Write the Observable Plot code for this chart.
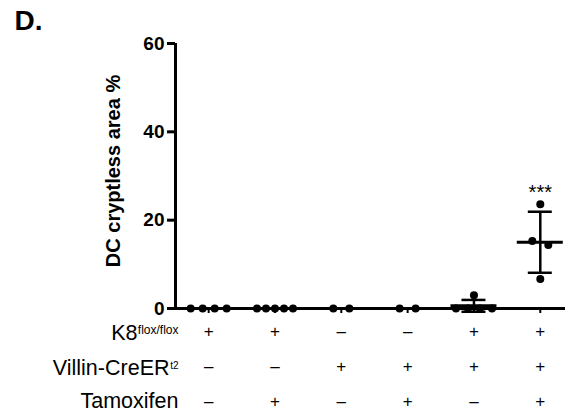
<!DOCTYPE html>
<html><head><meta charset="utf-8">
<script src="https://cdn.jsdelivr.net/npm/d3@7"></script>
<script src="https://cdn.jsdelivr.net/npm/@observablehq/plot@0.6"></script>
<style>body{margin:0;background:#fff}</style>
</head><body><div id="chart"></div>
<script>
const title = "D.";
const groups = [0, 1, 2, 3, 4, 5];
const values = [
  [0, 0, 0, 0],
  [0, 0, 0, 0, 0],
  [0, 0],
  [0, 0],
  [0, 0, 3, 0, 0],
  [23.6, 15.3, 14.4, 6.7]
];
const yTicks = [0, 20, 40, 60];
const yLabel = "DC cryptless area %";
const rowLabels = ["K8", "Villin-CreER", "Tamoxifen"];
const rowSups = ["flox/flox", "t2", ""];
const k8Row = ["+", "+", "–", "–", "+", "+"];
const villinRow = ["–", "–", "+", "+", "+", "+"];
const tamoxRow = ["–", "+", "–", "+", "–", "+"];
const signRows = [k8Row, villinRow, tamoxRow];
const starGroup = 5;
const stars = "***";

const font = '"Liberation Sans", Arial, Helvetica, sans-serif';
const W = 575, H = 416, mL = 175, mR = 10, mT = 43, mB = 108;
const xDomain = [-0.5, 5.38];
const pxPerUnit = (W - mL - mR) / (xDomain[1] - xDomain[0]);

// spread overlapping dots horizontally (layout only)
const pts = [];
values.forEach((vals, g) => {
  const sorted = vals.slice().sort((a, b) => b - a);
  const clusters = [];
  for (const v of sorted) {
    const c = clusters[clusters.length - 1];
    if (c && c[c.length - 1] - v < 1.2) c.push(v); else clusters.push([v]);
  }
  for (const c of clusters) {
    const n = c.length;
    const s = n > 1 ? Math.min(16, 36 / (n - 1)) : 0;
    c.forEach((v, k) => pts.push({g, v, off: (k - (n - 1) / 2) * s}));
  }
});
const stats = values.map((vals, g) => ({g, mean: d3.mean(vals), sd: d3.deviation(vals) || 0}));
const withSd = stats.filter(d => d.sd > 0);

const signDy = [23, 58, 93];
const rowDy = [25, 60, 93];
const supDy = [22, 57.5, 0];
const supSize = [12, 10, 12];
const mainDx = [-38, -6, 3];

const marks = [
  Plot.ruleY([0], {strokeWidth: 3}),
  Plot.ruleX([xDomain[0]], {y1: 0, y2: 60, strokeWidth: 3}),
  Plot.axisY({ticks: yTicks, anchor: "left", tickSize: 8, tickPadding: 3, fontSize: 19, fontWeight: "bold", strokeWidth: 3, label: null}),
  Plot.axisX({ticks: groups, anchor: "bottom", tickSize: 5, strokeWidth: 2, tickFormat: () => "", label: null}),
  Plot.text([yLabel], {frameAnchor: "left", textAnchor: "middle", lineAnchor: "middle", rotate: -90, dx: -62, dy: -5, fontSize: 20, fontWeight: "bold"}),
  Plot.text([title], {frameAnchor: "top-left", textAnchor: "start", lineAnchor: "middle", dx: -161, dy: -22, fontSize: 28, fontWeight: "bold"}),
  Plot.ruleX(withSd, {x: "g", y1: d => d.mean - d.sd, y2: d => d.mean + d.sd, strokeWidth: 2.5}),
  Plot.ruleY(withSd, {y: d => d.mean + d.sd, x1: "g", x2: "g", insetLeft: -12, insetRight: -12, strokeWidth: 2.5}),
  Plot.ruleY(withSd, {y: d => d.mean - d.sd, x1: "g", x2: "g", insetLeft: -12, insetRight: -12, strokeWidth: 2.5}),
  Plot.ruleY(stats, {y: "mean", x1: "g", x2: "g", insetLeft: -23, insetRight: -23, strokeWidth: 3}),
  Plot.dot(pts, {x: d => d.g + d.off / pxPerUnit, y: "v", r: 4, fill: "black", stroke: "none"}),
  Plot.text([starGroup], {x: d => d, y: d => d3.max(values[d]), text: () => stars, lineAnchor: "middle", dy: -12, fontSize: 20})
];
signRows.forEach((row, r) => {
  marks.push(Plot.text(groups, {x: d => d, text: d => row[d], frameAnchor: "bottom", lineAnchor: "middle", dy: signDy[r], fontSize: 17}));
  marks.push(Plot.text([rowLabels[r]], {frameAnchor: "bottom-left", textAnchor: "end", lineAnchor: "middle", dx: mainDx[r], dy: rowDy[r], fontSize: 21.5}));
  if (rowSups[r]) marks.push(Plot.text([rowSups[r]], {frameAnchor: "bottom-left", textAnchor: "end", lineAnchor: "middle", dx: 3, dy: supDy[r], fontSize: supSize[r]}));
});

const chart = Plot.plot({
  width: W, height: H, marginTop: mT, marginBottom: mB, marginLeft: mL, marginRight: mR,
  x: {domain: xDomain, axis: null},
  y: {domain: [0, 60], axis: null},
  style: {fontFamily: font, color: "black", background: "white", overflow: "visible"},
  marks
});
document.getElementById("chart").appendChild(chart);
</script>
</body></html>
